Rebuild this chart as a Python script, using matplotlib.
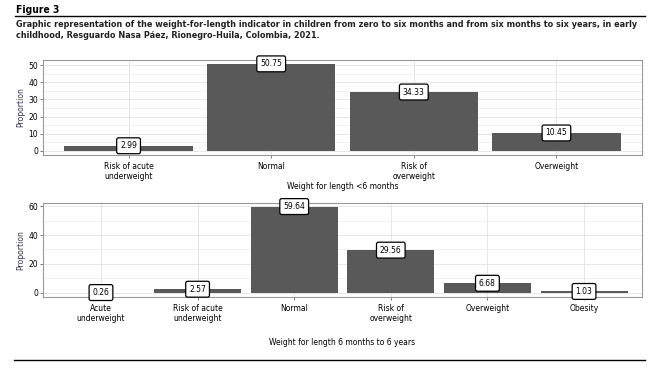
import numpy as np
import matplotlib
matplotlib.use("Agg")
import matplotlib.pyplot as plt
from matplotlib.ticker import MultipleLocator

# -------------------------------------------------------------
# Data
# -------------------------------------------------------------
cats_top = ["Risk of acute\nunderweight", "Normal", "Risk of\noverweight", "Overweight"]
vals_top = [2.99, 50.75, 34.33, 10.45]

cats_bot = ["Acute\nunderweight", "Risk of acute\nunderweight", "Normal",
            "Risk of\noverweight", "Overweight", "Obesity"]
vals_bot = [0.26, 2.57, 59.64, 29.56, 6.68, 1.03]

title_text = "Figure 3"
caption = ("Graphic representation of the weight-for-length indicator in children from zero to six months and from six months to six years, in early\n"
           "childhood, Resguardo Nasa Páez, Rionegro-Huila, Colombia, 2021.")

W, H = 652, 368
bar_color = "#595959"
fs = 5.5

fig = plt.figure(figsize=(W / 100, H / 100), dpi=100)


def px_axes(x0, y0, x1, y1):
    # pixel box (top-left origin) -> figure fraction
    return fig.add_axes([x0 / W, 1 - y1 / H, (x1 - x0) / W, (y1 - y0) / H])


def hline(x0, x1, y):
    fig.add_artist(plt.Line2D([x0 / W, x1 / W], [1 - y / H, 1 - y / H], color="black", lw=1.0))


def panel(ax, cats, vals, ylim, major, minor, xlabel, xlabel_pad):
    x = np.arange(len(cats))
    ax.bar(x, vals, width=0.9, color=bar_color, zorder=3)
    for xi, v in zip(x, vals):
        ax.text(xi, v, f"{v:.2f}", ha="center", va="center", fontsize=fs, zorder=5,
                bbox=dict(boxstyle="round,pad=0.45,rounding_size=0.25", fc="white", ec="black", lw=0.9))
    ax.set_xlim(-0.6, len(cats) - 0.4)
    ax.set_ylim(*ylim)
    ax.yaxis.set_major_locator(MultipleLocator(major))
    ax.yaxis.set_minor_locator(MultipleLocator(minor))
    ax.set_xticks(x)
    ax.set_xticklabels(cats, fontsize=fs, linespacing=1.1)
    ax.tick_params(axis="y", labelsize=fs, length=2, width=0.6, color="#666666", pad=1.5)
    ax.tick_params(axis="x", length=2, width=0.6, color="#666666", pad=3)
    ax.tick_params(axis="y", which="minor", length=0)
    ax.grid(which="major", color="#e3e3e3", lw=0.6, zorder=0)
    ax.grid(which="minor", axis="y", color="#ececec", lw=0.5, zorder=0)
    for s in ax.spines.values():
        s.set_color("#999999")
        s.set_linewidth(0.8)
    ax.set_ylabel("Proportion", fontsize=fs, labelpad=2, color="#333355")
    ax.set_xlabel(xlabel, fontsize=fs, labelpad=xlabel_pad)


# -------------------------------------------------------------
# Header and footer rule
# -------------------------------------------------------------
fig.text(16 / W, 1 - 10 / H, title_text, fontsize=7.4, fontweight="bold",
         family="DejaVu Sans", stretch="condensed", va="center", ha="left")
hline(15, 645, 16)
fig.text(16 / W, 1 - 30 / H, caption, fontsize=6.5, fontweight="bold",
         family="DejaVu Sans", stretch="condensed", va="center", ha="left",
         linespacing=1.35, color="#222222")
hline(14, 645, 360)

# -------------------------------------------------------------
# Panels
# -------------------------------------------------------------
ax1 = px_axes(43, 60, 642, 155)
panel(ax1, cats_top, vals_top, (-2.4, 53.0), 10, 5, "Weight for length <6 months", 1)

ax2 = px_axes(43, 203, 642, 297)
panel(ax2, cats_bot, vals_bot, (-2.8, 62.1), 20, 10, "Weight for length 6 months to 6 years", 11)

plt.savefig("out.png", dpi=100)
